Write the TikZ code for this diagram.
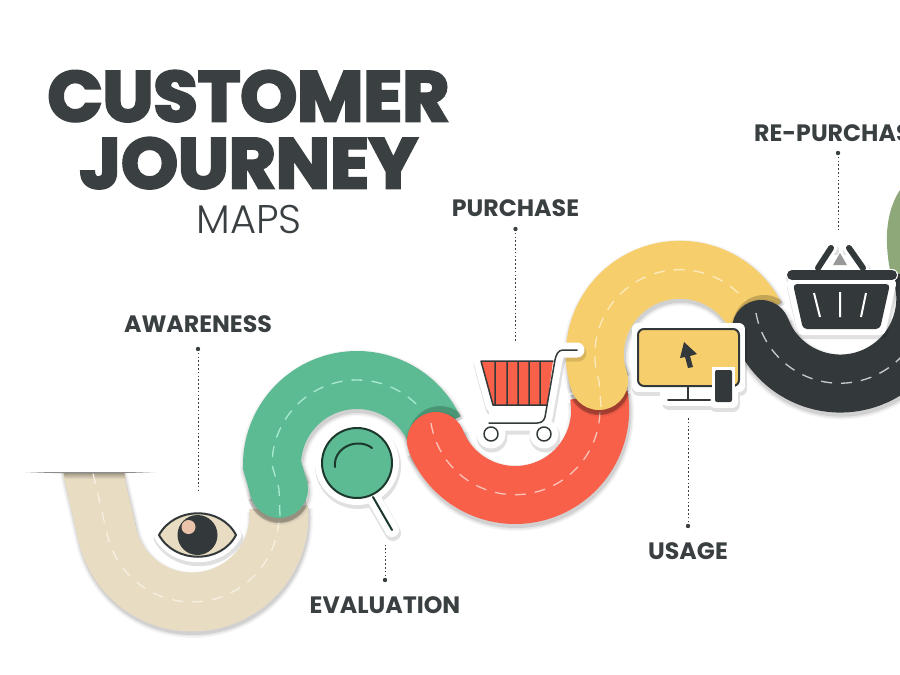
\documentclass[tikz,border=0pt]{standalone}
\usepackage{fontspec}
\newfontfamily\titlef[BoldFeatures={FakeBold=4,FakeStretch=1.023}]{Poppins}
\newfontfamily\labelf{Poppins}
\newfontfamily\lightf{Poppins Light}
\usetikzlibrary{calc}
\definecolor{ink}{HTML}{3A3F41}
\definecolor{beige}{HTML}{E8DCC2}
\definecolor{beigeD}{HTML}{F6F0E2}
\definecolor{jade}{HTML}{5DBB94}
\definecolor{jadeD}{HTML}{A8EBD0}
\definecolor{coral}{HTML}{F9604A}
\definecolor{coralD}{HTML}{FBC4B8}
\definecolor{sun}{HTML}{F6CE6B}
\definecolor{sunD}{HTML}{FBEBBE}
\definecolor{coal}{HTML}{33393B}
\definecolor{coalD}{HTML}{C9CCCC}
\definecolor{olive}{HTML}{8FA87A}
\tikzset{
  lbl/.style={font=\labelf\bfseries\fontsize{23.7}{24}\selectfont,text=ink,anchor=base,inner sep=0pt},
  titlebold/.style={anchor=base,inner sep=0pt,text=ink,font=\titlef\bfseries\fontsize{70.5}{72}\selectfont},
  dotline/.style={draw=ink,line width=1pt,dash pattern=on 1.6pt off 2.2pt},
  roadline/.style={line width=1.3pt,dash pattern=on 11pt off 9pt},
  thin outline/.style={draw=coal,line width=2pt,line join=round,line cap=round},
}
% road: colour, dash colour, path, cap centre, dash path, contact shadow offset,
%       centre and angles of the lower road's arc on which the contact shadow falls
\newcommand\road[9]{%
  \foreach \w/\o in {8/.04,5/.06,2/.09}{%
    \draw[line width=58pt+\w pt,black,opacity=\o,shift={(1pt,3pt)}] #3;
    \fill[black,opacity=\o,shift={(1pt,3pt)}] (#4) circle ({29+\w/2});
  }%
  \begin{scope}
    \clip ([shift={(#8:115)}]#7) arc (#8:#9:115) -- ([shift={(#9:56)}]#7) arc (#9:#8:56) -- cycle;
    \fill[black,opacity=.2,shift={(#6)}] (#4) circle (31);
  \end{scope}
  \draw[line width=58pt,#1] #3;
  \fill[#1] (#4) circle (29);
  \draw[roadline,#2] #5;
}
% sticker halo: path, width
\newcommand\halo[2]{%
  \draw[line width=#2pt+2pt,black,opacity=.12,shift={(1pt,3pt)},line join=round,line cap=round] #1;
  \draw[line width=#2pt,white,line join=round,line cap=round] #1;
}
\begin{document}
\begin{tikzpicture}[x=1pt,y=1pt,yscale=-1]
\useasboundingbox (0,0) rectangle (900,675);
\fill[white] (0,0) rectangle (900,675);

% olive road end
\fill[olive] (900,190) .. controls (890,205) and (886,225) .. (887,245) .. controls (888,265) and (892,285) .. (900,297) -- cycle;

% beige road
\foreach \w/\o in {8/.04,5/.06,2/.09}{%
  \draw[line width=58pt+\w pt,black,opacity=\o,shift={(1pt,3pt)}] (88,451) -- (107.6,536) arc (166:-5:87);
}
\draw[line width=59pt,beige] (88,451) -- (107.6,536) arc (166:-5:87);
\fill[white] (0,420) rectangle (200,473);
\shade[top color=black!30!beige,bottom color=beige] (63.5,473) -- (124.5,473) -- (126,479) -- (65,479) -- cycle;
\draw[roadline,beigeD] (93,473) -- (107.6,536) arc (166:-5:87);
\fill[black!45] (25,472) -- (155,472) .. controls (110,474) and (70,474) .. cycle;

% green road
\road{jade}{jadeD}{(279,489) -- (272,465) arc (180:335:85)}{279,489}{(280,516) -- (279,489) -- (272,465) arc (180:320:85)}{0pt,3pt}{192,515}{-15}{40}
% red road
\road{coral}{coralD}{(436,441) arc (158.6:-10:85)}{436,441}{(431,423) arc (171:-10:85)}{4pt,-4pt}{357,465}{280}{335}
% yellow road
\road{sun}{sunD}{(599,381) arc (162:333:85)}{599,381}{(601,407) -- (599,381) arc (162:320:85)}{0pt,3pt}{515,410}{-15}{40}
% dark road
\road{coal}{coalD}{(761,329) arc (159:-22:85)}{761,329}{(756,313) arc (170:-22:85)}{3pt,-3pt}{680,355}{280}{333}

% ---- eye
\halo{(159,535) .. controls (175,506) and (221,506) .. (236,535) .. controls (221,564) and (175,564) .. (159,535) -- cycle}{11}
\draw[thin outline,fill=beige] (159,535) .. controls (175,506) and (221,506) .. (236,535) .. controls (221,564) and (175,564) .. (159,535) -- cycle;
\fill[coal] (197.5,535) circle (20);
\fill[beige!80!coral] (188.5,527) circle (7);

% ---- magnifier
\halo{(357,463) circle (35) (373,497) -- (392,530)}{14}
\fill[white] (357,463) circle (36);
\draw[line width=2pt,draw=black!70!jade,fill=jade] (357,463) circle (35);
\draw[line width=2pt,draw=black!70!jade,line cap=round] (335,467) .. controls (333,447) and (358,437) .. (372,448);
\draw[line width=2pt,draw=black!70!jade,line cap=round] (373,497) -- (392,530);

% ---- cart
\halo{(481,361) -- (553,361) -- (547,405) -- (493,405) -- cycle (577,350) -- (563,350) .. controls (558,350) and (556,355) .. (555,360) -- (545,417) .. controls (544,421) and (541,423) .. (537,423) -- (489,423) (491,434) circle (7) (544,434) circle (7)}{15}
\fill[white] (481,361) -- (553,361) -- (547,405) -- (493,405) -- cycle (489,405) rectangle (547,425) (491,434) circle (7) (544,434) circle (7);
\fill[coral] (481,361) -- (553,361) -- (547,405) -- (493,405) -- cycle;
\draw[thin outline,line width=1.5pt] (481,361) -- (553,361) (547,405) -- (493,405) (481,361) -- (493,405)
  (495,361) -- (495,405) (507,361) -- (507,405) (518,361) -- (518,405) (529,361) -- (529,405) (540,361) -- (540,405);
\draw[thin outline,line width=1.5pt] (577,350) -- (563,350) .. controls (558,350) and (556,355) .. (555,360) -- (545,417) .. controls (544,421) and (541,423) .. (537,423) -- (489,423);
\draw[thin outline,line width=1.5pt,fill=white] (491,434) circle (7) (544,434) circle (7);

% ---- monitor
\halo{(638,329) rectangle (739,386) (668,400) -- (710,400) (715,370) rectangle (732,402)}{12}
\fill[white] (660,386) rectangle (725,405);
\draw[thin outline,fill=sun,rounded corners=6pt] (638,329) rectangle (739,386);
\draw[thin outline] (688,386) -- (688,400) (668,400) -- (710,400);
\fill[white] (712,367) rectangle (735,405);
\fill[coal,rounded corners=2pt] (715,370) rectangle (732,402);
\fill[coal] (684,342) -- (697,354) -- (690,356) -- (693,367) -- (688,368) -- (685,357) -- (680,358) -- cycle;

% ---- basket
\halo{(792,275) -- (892,275) (793,284) -- (890,284) -- (880,329) -- (803,329) -- cycle (818,268) -- (831,248) (863,268) -- (849,248)}{12}
\fill[white] (793,284) -- (890,284) -- (880,329) -- (803,329) -- cycle (815,255) rectangle (865,275);
\fill[black!40] (833,265) -- (847,265) -- (840,253) -- cycle;
\draw[coal,line width=6pt,line cap=round] (818,268) -- (831,248) (863,268) -- (849,248);
\draw[coal,line width=10pt,line cap=round] (792,275) -- (892,275);
\fill[coal,rounded corners=4pt] (793,284) -- (890,284) -- (880,329) -- (803,329) -- cycle;
\draw[white,line width=2pt] (814,293) -- (820,317) (840,292) -- (840,317) (866,293) -- (861,317);

% ---- title
\node[titlebold] (t1) at (248.5,121) {CUSTOMER};
\node[titlebold] (t2) at (248.5,188) {JOURNEY};
\node[anchor=base,inner sep=0pt,text=ink,font=\lightf\fontsize{40}{41}\selectfont] (t3) at (249,233) {MAPS};

% ---- labels
\node[lbl] (aw) at (198,332) {AWARENESS};
\node[lbl] (pu) at (515.5,216) {PURCHASE};
\node[lbl] (us) at (688,559) {USAGE};
\node[lbl] (ev) at (385,613) {EVALUATION};
\node[lbl,anchor=base west] (re) at (754,141) {RE-PURCHASE};

% ---- leaders
\coordinate (awA) at (198,349); \coordinate (awB) at (198,490);
\coordinate (puA) at (515.5,229); \coordinate (puB) at (515.5,342);
\coordinate (usA) at (688,526); \coordinate (usB) at (688,418);
\coordinate (evA) at (385,580); \coordinate (evB) at (385,545);
\coordinate (reA) at (838,153); \coordinate (reB) at (838,230);
\foreach \a/\b in {awA/awB,puA/puB,usA/usB,evA/evB,reA/reB}{
  \draw[dotline] (\a) -- (\b);
  \fill[ink] (\a) circle (2.2);
}
\end{tikzpicture}
\end{document}
